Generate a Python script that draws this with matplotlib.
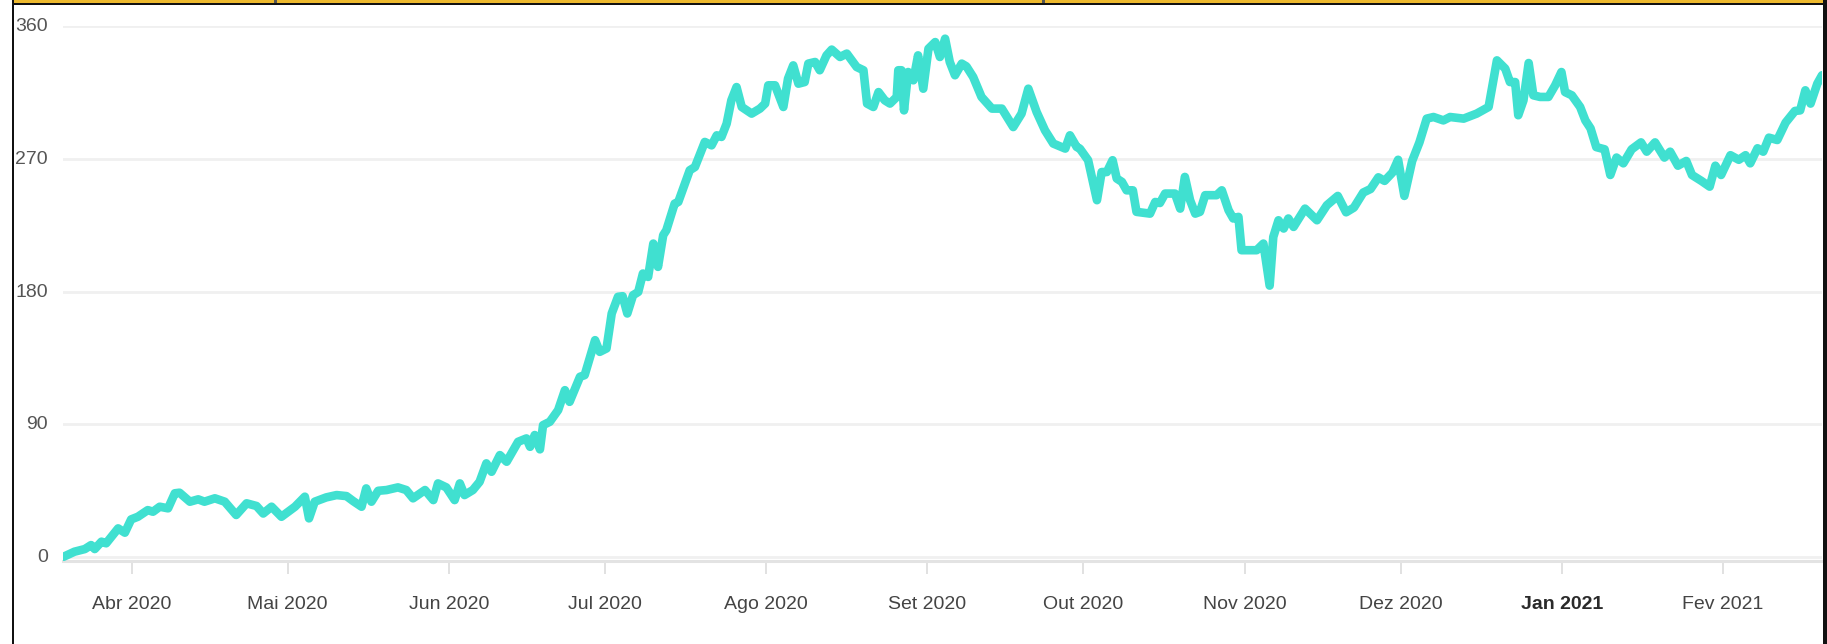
import matplotlib
matplotlib.use("Agg")
import matplotlib.pyplot as plt
import matplotlib.dates as mdates
from matplotlib import font_manager
from matplotlib.transforms import ScaledTranslation
from matplotlib.patches import Rectangle
from datetime import datetime
import numpy as np

# ---- data (x = days since 2020-04-01, y = value) ----
day_offsets = [
    -13.2, -11.0, -9.0, -7.8, -7.1, -5.8, -4.9, -2.6, -1.3, -0.1, 1.2, 3.1, 4.1, 5.4,
    7.0, 8.3, 9.2, 11.2, 12.8, 14.0, 16.0, 17.9, 20.1, 22.1, 24.0, 25.3, 26.9, 28.8,
    31.4, 33.3, 34.1, 35.2, 37.4, 39.4, 41.3, 42.6, 44.2, 45.1, 46.1, 47.4, 49.0,
    51.2, 52.8, 54.1, 56.4, 58.0, 58.9, 60.5, 62.1, 63.1, 64.0, 65.6, 66.9, 68.2,
    69.2, 70.8, 72.1, 74.3, 75.9, 76.6, 77.5, 78.5, 79.1, 80.4, 82.0, 83.3, 84.2,
    86.2, 87.1, 89.1, 90.0, 91.3, 92.3, 93.5, 94.4, 95.3, 96.4, 97.4, 98.3, 99.3,
    100.3, 101.2, 102.2, 102.8, 104.4, 105.1, 107.3, 108.3, 110.2, 111.5, 112.5,
    113.4, 114.4, 115.3, 116.3, 117.3, 119.2, 120.8, 121.8, 122.4, 123.7, 125.3,
    126.2, 127.2, 128.2, 129.4, 130.1, 131.4, 132.3, 133.6, 134.6, 136.2, 137.5,
    139.4, 140.7, 141.4, 142.6, 143.6, 144.8, 145.8, 147.1, 147.4, 148.0, 148.5,
    149.3, 150.3, 151.2, 152.2, 153.2, 154.5, 155.4, 156.4, 157.3, 158.3, 159.6,
    160.5, 161.8, 163.4, 165.4, 167.3, 169.5, 171.1, 172.4, 174.0, 175.6, 177.2,
    179.5, 180.4, 181.7, 182.3, 183.9, 185.6, 186.5, 187.5, 188.6, 189.4, 190.4,
    191.3, 192.5, 193.2, 194.8, 195.8, 196.8, 197.7, 198.7, 200.6, 201.6, 202.5,
    203.5, 204.5, 205.4, 206.4, 208.6, 209.6, 210.9, 211.8, 212.8, 213.4, 216.3,
    217.6, 218.8, 219.5, 220.5, 221.5, 222.4, 223.4, 225.6, 227.9, 229.8, 231.9,
    233.5, 235.0, 236.8, 238.2, 239.7, 240.9, 242.4, 243.5, 244.7, 246.2, 247.6,
    249.0, 250.3, 252.2, 253.5, 256.1, 258.6, 260.9, 262.5, 264.1, 265.0, 266.0,
    266.6, 267.6, 268.6, 269.5, 270.8, 272.4, 273.7, 274.9, 275.6, 276.9, 278.5,
    279.5, 280.5, 281.6, 283.2, 284.3, 285.5, 286.8, 288.4, 290.2, 291.3, 292.9,
    294.7, 295.8, 297.3, 298.9, 300.0, 301.8, 303.4, 304.5, 305.6, 307.4, 309.0,
    310.3, 311.2, 312.6, 313.7, 314.8, 316.4, 318.0, 319.8, 320.8, 321.8, 322.8,
    324.1, 325.0,
]
values = [
    0.0, 3.6, 5.4, 8.1, 5.4, 10.4, 9.3, 19.4, 16.5, 25.5, 27.3, 31.8, 30.7, 34.1,
    33.0, 43.2, 43.6, 37.5, 39.1, 37.5, 39.8, 37.5, 28.5, 36.4, 34.6, 29.5, 34.1, 27.3,
    34.1, 40.9, 26.2, 37.5, 40.4, 42.0, 41.3, 37.9, 34.1, 46.5, 37.5, 44.9, 45.4,
    47.2, 45.4, 39.8, 45.4, 38.6, 49.9, 47.2, 38.6, 49.9, 42.0, 45.4, 51.0, 63.5,
    57.8, 69.1, 64.6, 78.1, 80.4, 74.7, 82.7, 73.0, 89.4, 91.7, 99.6, 113.1, 105.2,
    122.2, 123.3, 147.0, 139.1, 141.4, 165.1, 176.4, 176.8, 165.1, 177.5, 179.7, 192.2, 189.9,
    212.5, 196.7, 218.2, 221.5, 239.6, 240.7, 262.2, 264.4, 281.4, 279.1, 285.9,
    284.8, 293.8, 309.6, 318.6, 305.1, 300.6, 304.0, 307.4, 319.8, 319.8, 305.1,
    324.3, 333.3, 320.9, 322.0, 334.5, 335.6, 330.0, 340.1, 344.0, 339.0, 341.3,
    332.2, 330.0, 307.4, 305.1, 315.2, 309.6, 307.4, 311.9, 330.0, 330.0, 302.8,
    328.8, 323.2, 340.1, 317.5, 344.6, 349.1, 339.0, 351.4, 335.6, 326.6, 334.5,
    332.6, 325.4, 311.9, 304.0, 304.0, 291.5, 300.6, 317.5, 301.7, 289.3, 280.3,
    276.9, 285.9, 278.0, 276.9, 269.0, 241.9, 261.0, 261.0, 269.0, 256.6, 254.3,
    248.6, 248.6, 234.0, 233.3, 232.8, 240.7, 240.0, 246.4, 246.4, 236.2, 257.7,
    241.9, 232.8, 234.0, 245.3, 245.3, 248.6, 235.1, 229.5, 230.6, 208.0, 208.0,
    212.5, 184.0, 217.0, 228.3, 222.7, 229.5, 223.8, 236.2, 228.3, 238.5, 244.8,
    233.7, 236.9, 247.1, 249.5, 257.4, 255.0, 260.6, 269.3, 244.8, 268.5, 281.1,
    297.2, 298.3, 296.0, 298.3, 297.2, 300.6, 305.1, 336.7, 331.1, 322.0, 322.0,
    299.5, 309.6, 334.9, 313.0, 311.9, 311.9, 319.8, 328.8, 315.2, 313.0, 305.1,
    296.0, 290.6, 277.9, 276.4, 259.0, 270.8, 266.9, 276.4, 281.1, 274.8, 281.1,
    270.8, 274.8, 265.3, 268.5, 259.0, 255.0, 251.1, 265.3, 259.0, 272.4, 269.3,
    272.4, 266.9, 277.1, 274.8, 284.3, 282.7, 294.5, 302.4, 302.8, 316.4, 307.4,
    320.9, 326.6,
]
tick_months = [(2020, 4), (2020, 5), (2020, 6), (2020, 7), (2020, 8), (2020, 9),
               (2020, 10), (2020, 11), (2020, 12), (2021, 1), (2021, 2)]
tick_labels = ["Abr 2020", "Mai 2020", "Jun 2020", "Jul 2020", "Ago 2020", "Set 2020",
               "Out 2020", "Nov 2020", "Dez 2020", "Jan 2021", "Fev 2021"]
y_ticks = [0, 90, 180, 270, 360]

# ---- font choice: a narrow sans if one is installed ----
names = {f.name for f in font_manager.fontManager.ttflist}
if "Liberation Sans Narrow" in names:
    font, fsize = ["Liberation Sans Narrow", "DejaVu Sans"], 16
else:
    font, fsize = ["Liberation Sans", "DejaVu Sans"], 14

# ---- figure ----
W, H, DPI = 1827, 644, 100
fig = plt.figure(figsize=(W / DPI, H / DPI), dpi=DPI)
fig.patch.set_facecolor("white")

def fx(px):
    return px / W

def fy(py):
    return 1 - py / H

ax = fig.add_axes([fx(63), fy(561), fx(1822) - fx(63), fy(26) - fy(561)])

base = mdates.date2num(datetime(2020, 4, 1))
xs = base + np.array(day_offsets)
ax.plot(xs, values, color="#40E0D0", lw=6.2, solid_joinstyle="round",
        solid_capstyle="round", zorder=3)

ax.set_xlim(xs[0], xs[-1])
ax.set_ylim(-2.7, 360)

# gridlines
ax.set_yticks(y_ticks)
ax.yaxis.grid(True, color="#f0f0f0", lw=2.0)
ax.set_axisbelow(True)
for s in ["top", "right", "left"]:
    ax.spines[s].set_visible(False)
ax.spines["bottom"].set_color("#e3e3e3")
ax.spines["bottom"].set_linewidth(2.2)

ax.tick_params(axis="y", length=0, pad=11, labelsize=fsize, labelcolor="#555555")
for lab in ax.get_yticklabels():
    lab.set_fontfamily(font)
    lab.set_transform(lab.get_transform() + ScaledTranslation(0, 1.5 / DPI, fig.dpi_scale_trans))

tick_pos = [mdates.date2num(datetime(y, m, 1)) for y, m in tick_months]
ax.set_xticks(tick_pos)
ax.set_xticklabels(tick_labels)
ax.tick_params(axis="x", length=9, width=1.2, color="#dcdcdc", pad=16,
               labelsize=fsize, labelcolor="#444444")
for lab in ax.get_xticklabels():
    lab.set_fontfamily(font)
    if lab.get_text() == "Jan 2021":
        lab.set_fontweight("bold")
        lab.set_color("#2a2a2a")

# ---- screenshot frame ----
def rect(x0, y0, x1, y1, color):
    fig.patches.append(Rectangle((fx(x0), fy(y1)), fx(x1) - fx(x0), fy(y0) - fy(y1),
                                 transform=fig.transFigure, color=color, zorder=10, lw=0))

rect(13, 0, 1827, 3, "#EDB92E")
rect(12, 3, 1827, 5, "#111111")
rect(274, 0, 277, 3, "#555555")
rect(1042, 0, 1045, 3, "#555555")
rect(12, 0, 14, 644, "#111111")
rect(1823, 0, 1827, 644, "#111111")

fig.savefig("out.png", dpi=DPI, facecolor="white")
